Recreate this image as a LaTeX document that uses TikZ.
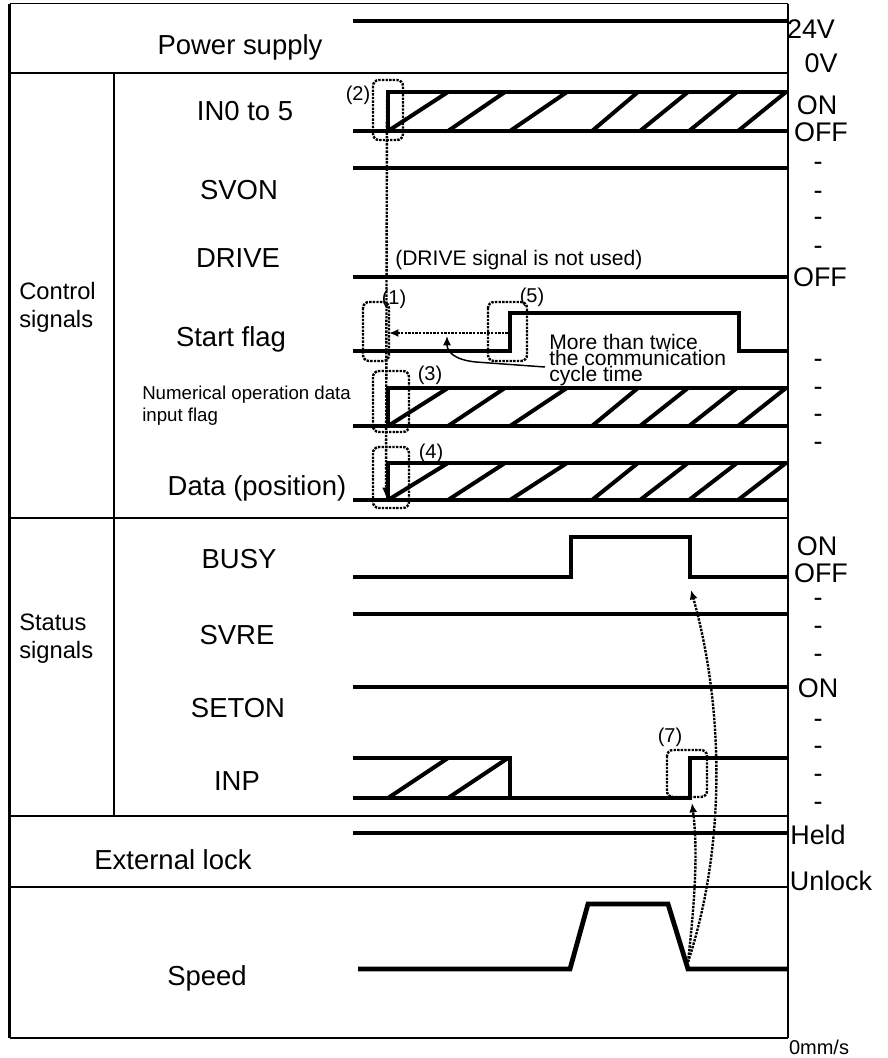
\documentclass[tikz,border=0pt]{standalone}
\usepackage{fontspec}
\setmainfont{Liberation Sans}
\usetikzlibrary{arrows.meta, positioning, calc}

\begin{document}
\begin{tikzpicture}[x=0.75pt, y=-0.75pt,
        sig/.style={line width=3.6pt},
        hatch/.style={line width=3pt},
        gline/.style={line width=1.6pt},
        lbl/.style={font=\fontsize{20.6}{24}\selectfont, inner sep=0pt, text height=14.8pt, text depth=0pt},
        grp/.style={font=\fontsize{17.8}{21}\selectfont, inner sep=0pt, align=left, anchor=west},
        lvl/.style={font=\fontsize{20.2}{24}\selectfont, inner sep=0pt, text height=14.5pt, text depth=0pt},
        remark/.style={font=\fontsize{15.8}{18}\selectfont, inner sep=0pt, text height=11.3pt, text depth=0pt, anchor=west},
        note/.style={font={\fontsize{15.8}{12}\selectfont\lineskiplimit=-20pt}, inner sep=0pt, align=left, anchor=north west},
        small/.style={font={\fontsize{14}{16.5}\selectfont\lineskiplimit=-20pt}, inner sep=0pt, align=left, anchor=west},
        tag/.style={font=\fontsize{15}{18}\selectfont, inner sep=0pt},
        ring/.style={dash pattern=on 1.8pt off 0.9pt, line width=1.8pt, rounded corners=4.5pt},
        trace/.style={dash pattern=on 1.8pt off 0.9pt, line width=1.8pt, -{Latex[length=7pt, width=6pt]}},
    ]
    \useasboundingbox (0,0) rectangle (888,1058);

    % Frame
    \draw[line width=1.1pt] (9.5,3.5) -- (788,3.5);
    \draw[gline] (9.5,3.5) -- (9.5,1038) (788,3.5) -- (788,1038);
    \draw[gline] (9.5,73) -- (788,73) (114,73) -- (114,816);
    \draw[gline] (9.5,518) -- (788,518) (9.5,887) -- (788,887);
    \draw[line width=2.2pt] (9.5,816) -- (788,816) (9.5,1038) -- (788,1038);

    % Row labels
    \node[lbl] (power) at (240,45) {Power supply};
    \node[lbl] (in05)  at (245,111) {IN0 to 5};
    \node[lbl] (svon)  at (239,190) {SVON};
    \node[lbl] (drive) at (238,258) {DRIVE};
    \node[grp] (ctrl)  at (19,307) {Control\\signals};
    \node[lbl] (start) at (231,337) {Start flag};
    \node[small] (numflag) at (142,406) {Numerical operation data\\input flag};
    \node[lbl] (data)  at (257,486) {Data (position)};
    \node[lbl] (busy)  at (239,559) {BUSY};
    \node[grp] (stat)  at (19,639) {Status\\signals};
    \node[lbl] (svre)  at (237,635) {SVRE};
    \node[lbl] (seton) at (238,708) {SETON};
    \node[lbl] (inp)   at (237,781) {INP};
    \node[lbl] (lock)  at (173,860) {External lock};
    \node[lbl] (speed) at (207,976) {Speed};

    % Level labels
    \foreach \txt/\xx/\yy [count=\i] in {24V/811/29, 0V/821/63, ON/817/105, OFF/821/132, OFF/820/277,
            ON/817/546, OFF/821/573, ON/818/688, Held/818/835, Unlock/831/881}
        \node[lvl] (lv\i) at (\xx,\yy) {\txt};
    \foreach \yy [count=\i] in {161,190,216,245,358,386,413,441,597,625,653,718,745,773,801}
        \node[lvl] (dash\i) at (818,\yy) {-};
    \node[tag, text height=10.7pt, text depth=0pt] (zero) at (819,1047) {0mm/s};

    % Signal lines
    \draw[sig] (353,21) -- (788,21);
    \draw[sig] (353,168) -- (788,168);
    \draw[sig] (353,277) -- (788,277);
    \draw[sig] (353,351) -- (510,351) |- (739,313) |- (788,351);
    \draw[sig] (353,577) -- (571,577) |- (690,537) |- (788,577);
    \draw[sig] (353,614) -- (788,614);
    \draw[sig] (353,687) -- (788,687);
    \draw[sig] (353,758) -| (510,798);
    \draw[sig] (353,798) -| (690,758) -- (788,758);
    \draw[sig] (353,833) -- (788,833);
    \draw[sig] (358,969) -- (570,969) -- (588,904) -- (668,904) -- (688,969) -- (788,969);

    % Hatched data rows
    \foreach \yt/\yb in {92/131, 388/426, 463/500} {
        \draw[sig] (353,\yb) -- (788,\yb) (788,\yt) -- (388,\yt) -- (388,\yb);
        \foreach \xb/\xt in {388/448, 448/505, 510/567, 592/638, 640/688, 689/737, 738/786}
            \draw[hatch] (\xb,\yb) -- (\xt,\yt);
    }
    \foreach \xb/\xt in {388/448, 448/508}
        \draw[hatch] (\xb,798) -- (\xt,758);

    \node[remark] (unused) at (395,258) {(DRIVE signal is not used)};

    % Timing marks
    \draw[ring] (373,80) rectangle (403,140);
    \draw[ring] (363,302) rectangle (389,361);
    \draw[ring] (488,302) rectangle (527,361);
    \draw[ring] (373,371) rectangle (409,432);
    \draw[ring] (373,447) rectangle (409,508);
    \draw[ring] (667,750) rectangle (707,797);
    \node[tag] (t2) at (358,95) {(2)};
    \node[tag] (t1) at (394,299) {(1)};
    \node[tag] (t5) at (532,297) {(5)};
    \node[tag] (t3) at (430,375) {(3)};
    \node[tag] (t4) at (431,453) {(4)};
    \node[tag] (t7) at (670,737) {(7)};

    % Dotted arrows
    \coordinate (in05edge) at (387,100);
    \coordinate (dataedge) at (386,497);
    \draw[trace] (in05edge) -- (dataedge);
    \coordinate (startlow) at (389,333);
    \coordinate (starthigh) at (508,333);
    \draw[trace, {Latex[length=7pt, width=6pt]}-] (startlow) -- (starthigh);
    \node[note] (cyc) at (549,334) {More than twice\\the communication\\cycle time};
    \coordinate (cycfoot) at (545,367);
    \coordinate (cyctip) at (447,336);
    \draw[line width=1.1pt, -{Latex[length=7pt, width=6pt]}] (cycfoot) -- (476,362) .. controls (455,360) and (447,352) .. (cyctip);
    \coordinate (stop) at (688,962);
    \coordinate (inprise) at (692,803);
    \coordinate (busyfall) at (691,590);
    \draw[trace] (stop) .. controls (695,900) and (698,850) .. (inprise);
    \draw[trace] (stop) .. controls (728,840) and (722,700) .. (busyfall);
\end{tikzpicture}
\end{document}
